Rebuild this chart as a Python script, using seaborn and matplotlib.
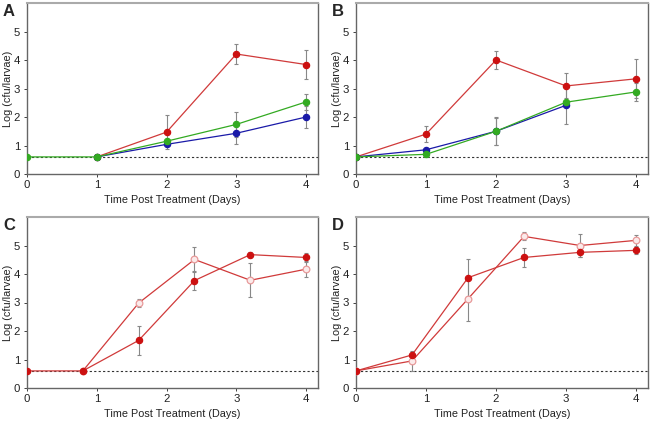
import numpy as np
import pandas as pd
import matplotlib
matplotlib.use("Agg")
import matplotlib.pyplot as plt
import seaborn as sns

sns.set_theme(style="white")
plt.rcParams['font.family'] = ['Liberation Sans', 'DejaVu Sans']

# ---------------- data ----------------
days_ab = [0, 1, 2, 3, 4]
days_cd = [0, 0.8, 1.6, 2.4, 3.2, 4.0]
detection_limit = 0.6

# Panel A
a_red_x = [1, 2, 3, 4]
a_red = [0.6, 1.47, 4.21, 3.84]
a_red_err = [0.0, 0.6, 0.36, 0.51]
a_green_x = [0, 1, 2, 3, 4]
a_green = [0.6, 0.6, 1.15, 1.74, 2.53]
a_green_err = [0.0, 0.0, 0.0, 0.43, 0.27]
a_blue_x = [1, 2, 3, 4]
a_blue = [0.6, 1.04, 1.43, 2.0]
a_blue_err = [0.0, 0.0, 0.36, 0.37]

# Panel B
b_red = [0.6, 1.40, 4.0, 3.09, 3.34]
b_red_err = [0.0, 0.28, 0.30, 0.44, 0.68]
b_blue_x = [0, 1, 2, 3]
b_blue = [0.6, 0.85, 1.50, 2.41]
b_blue_err = [0.0, 0.0, 0.47, 0.66]
b_green = [0.6, 0.69, 1.50, 2.52, 2.88]
b_green_err = [0.0, 0.08, 0.49, 0.0, 0.32]

# Panel C
c_filled = [0.6, 0.6, 1.67, 3.77, 4.68, 4.58]
c_filled_err = [0.0, 0.0, 0.52, 0.32, 0.10, 0.16]
c_open_x = [0.8, 1.6, 2.4, 3.2, 4.0]
c_open = [0.6, 2.98, 4.51, 3.78, 4.17]
c_open_err = [0.0, 0.13, 0.44, 0.59, 0.27]

# Panel D
d_filled = [0.6, 1.16, 3.87, 4.58, 4.76, 4.83]
d_filled_err = [0.0, 0.12, 0.66, 0.33, 0.17, 0.13]
d_open = [0.6, 0.95, 3.13, 5.32, 5.0, 5.18]
d_open_err = [0.0, 0.35, 0.78, 0.14, 0.41, 0.19]

panel_letters = ['A', 'B', 'C', 'D']
xlabel = 'Time Post Treatment (Days)'
ylabel = 'Log (cfu/larvae)'

RED = '#cc1111'
RED_LINE = '#d03a3a'
GREEN = '#33aa22'
BLUE = '#1a1aa8'
PINK = '#e89a9a'
ERR = '#888888'

fig = plt.figure(figsize=(6.52, 4.24), dpi=100)
W, H = 652, 424
boxes = [(27, 3, 318, 174), (356, 3, 648, 174), (27, 217, 318, 388), (356, 217, 648, 388)]
axes = []
for (l, t, r, b) in boxes:
    axes.append(fig.add_axes([l / W, 1 - b / H, (r - l) / W, (b - t) / H]))


def series(ax, x, y, err, color, line_color, open_marker=False):
    df = pd.DataFrame({'x': x, 'y': y})
    sns.lineplot(data=df, x='x', y='y', ax=ax, color=line_color, linewidth=0.9,
                 marker='o', markersize=4.8 if open_marker else 4.5,
                 markerfacecolor='#fbeaea' if open_marker else color,
                 markeredgecolor=color, markeredgewidth=0.9, zorder=3,
                 estimator=None, sort=False)
    e = np.array(err)
    m = e > 0
    ax.errorbar(np.array(x)[m], np.array(y)[m], yerr=e[m], fmt='none',
                ecolor=ERR, elinewidth=0.8, capsize=1.5, capthick=0.8, zorder=2)


for ax in axes:
    ax.axhline(detection_limit, color='#333333', linestyle=(0, (2, 2)), linewidth=0.8, zorder=1)

series(axes[0], a_red_x, a_red, a_red_err, RED, RED_LINE)
series(axes[0], a_blue_x, a_blue, a_blue_err, BLUE, BLUE)
series(axes[0], a_green_x, a_green, a_green_err, GREEN, GREEN)

series(axes[1], days_ab, b_red, b_red_err, RED, RED_LINE)
series(axes[1], b_blue_x, b_blue, b_blue_err, BLUE, BLUE)
series(axes[1], days_ab, b_green, b_green_err, GREEN, GREEN)

series(axes[2], c_open_x, c_open, c_open_err, PINK, RED_LINE, open_marker=True)
series(axes[2], days_cd, c_filled, c_filled_err, RED, RED_LINE)

series(axes[3], days_cd, d_open, d_open_err, PINK, RED_LINE, open_marker=True)
series(axes[3], days_cd, d_filled, d_filled_err, RED, RED_LINE)

label_x = [8.5, 337, 8.5, 337]
for i, ax in enumerate(axes):
    l, t, r, b = boxes[i]
    ax.set_xlim(0, 4.17)
    ax.set_ylim(0, 6)
    ax.set_xticks([0, 1, 2, 3, 4])
    ax.set_yticks([0, 1, 2, 3, 4, 5])
    ax.tick_params(axis='both', labelsize=8.2, colors='#222222', length=2, width=0.6,
                   direction='out', pad=2, left=True, bottom=True)
    ax.tick_params(axis='y', pad=3)
    ax.set_xlabel(xlabel, fontsize=7.8, color='#222222', labelpad=4)
    ax.set_ylabel(ylabel, fontsize=7.8, color='#222222', va='center')
    ax.yaxis.set_label_coords((label_x[i] - l) / (r - l), 0.5)
    for side in ['left', 'bottom', 'right']:
        ax.spines[side].set_color('#666666')
        ax.spines[side].set_linewidth(1.0)
    ax.spines['top'].set_color('#aaaaaa')
    ax.spines['top'].set_linewidth(1.5)
    ax.grid(False)
    ax.set_facecolor('white')

letter_pos = [(3, 11), (332, 11), (3, 225), (332, 225)]
for (x, y), letter in zip(letter_pos, panel_letters):
    fig.text(x / W, 1 - y / H, letter, fontsize=12, fontweight='bold', va='center', ha='left')

fig.savefig('out.png', dpi=100)
